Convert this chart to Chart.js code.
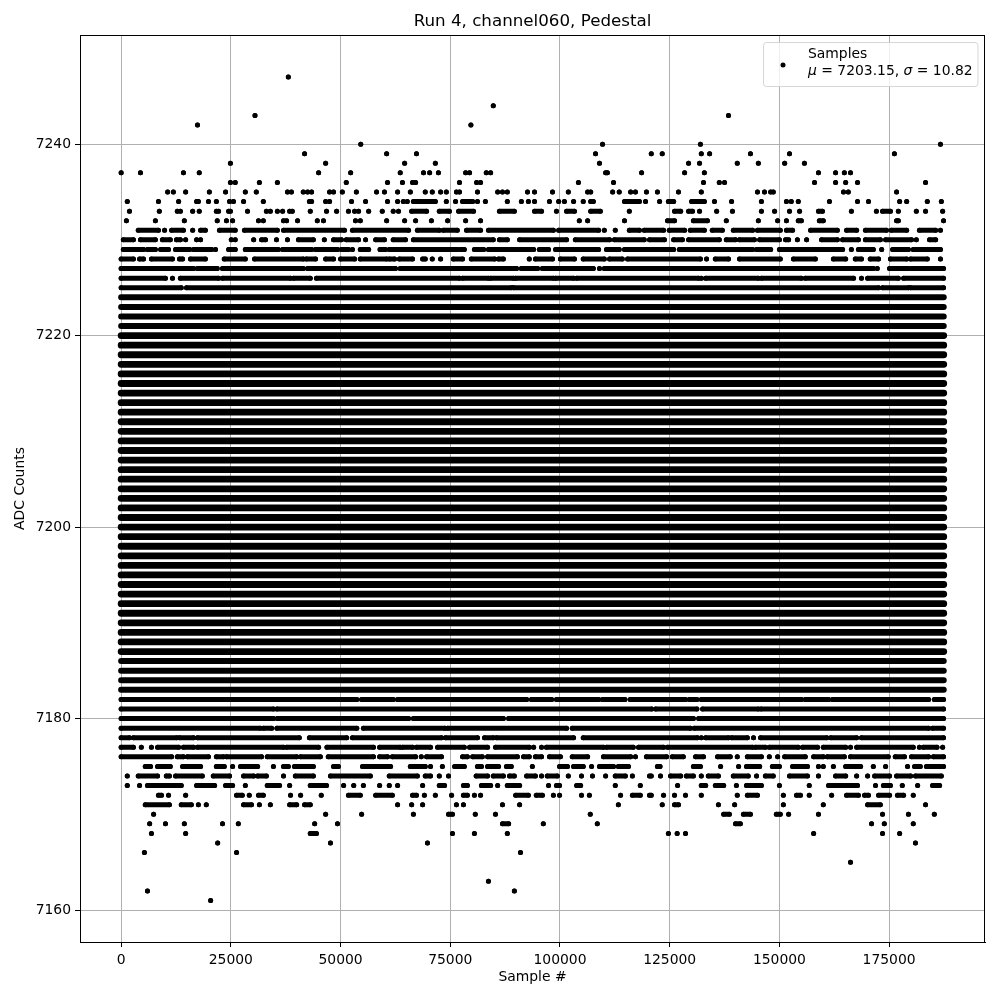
<!DOCTYPE html>
<html><head><meta charset="utf-8">
<script src="https://cdn.jsdelivr.net/npm/chart.js@4/dist/chart.umd.min.js"></script>
<style>html,body{margin:0;padding:0;background:#fff}</style>
</head><body>
<canvas id="c" width="1000" height="1000"></canvas>
<script>
// ---------------- data (x values in thousands of samples) ----------------
const chartTitle = 'Run 4, channel060, Pedestal';
const xLabel = 'Sample #';
const yLabel = 'ADC Counts';
const legendLabel = 'Samples';
const meanADC = '7203.15';
const sigmaADC = '10.82';
const xTicks = [0, 25000, 50000, 75000, 100000, 125000, 150000, 175000];
const yTicks = [7160, 7180, 7200, 7220, 7240];
const lastSampleK = 187.45;

// ADC levels filled continuously over the whole run (core = most populated)
const coreLevels = [7187,7188,7189,7190,7191,7192,7193,7194,7195,7196,7197,7198,7199,7200,
  7201,7202,7203,7204,7205,7206,7207,7208,7209,7210,7211,7212,7213,7214,7215,7216,7217,7218,7219,7220];
const shoulderLevels = [7183,7184,7185,7186,7221,7222,7223,7224];

// upper tail: single numbers = isolated samples, pairs = runs of adjacent samples
const upperLevels = [7247,7244,7243,7242,7240,7239,7238,7237,7236,7235,7234,7233,7232,7231,7230,7229,7228,7227,7226,7225];
const upperRuns = [
  [38.1],
  [84.8],
  [30.5,138.4],
  [17.4,79.7],
  [54.6,109.7,132.0,186.7],
  [41.8,60.5,67.3,108.1,120.8,123.3,132.2,134.1,143.4,152.3,176.2],
  [24.9,46.6,64.6,71.6,109.0,129.3,131.8,140.4,145.2,151.2,155.7],
  [0,4.4,14.2,17.8,45.0,52.3,63.6,68.9,70.3,72.3,78.5,79.4,83.2,84.2,[110.4,110.8],118.6,128.4,132.9,158.9,162.8,164.8,166.2],
  [24.9,26.0,31.5,35.6,51.3,60.7,64.1,66.4,67.1,77.1,81.0,81.9,104.2,112.2,132.7,136.3,137.5,158.0,162.8,165.1,167.8,183.3],
  [10.6,11.9,14.7,20.1,23.8,28.3,30.8,37.9,38.8,41.5,42.5,43.4,47.5,48.4,50.4,53.6,58.2,60.0,63.0,65.9,69.3,70.9,72.8,74.1,76.4,77.1,81.2,85.8,86.9,88.0,92.6,94.2,98.3,101.9,106.3,107.0,112.0,113.5,116.1,117.2,119.7,122.2,127.0,132.2,145.0,146.6,148.0,148.6,164.6,165.7,176.7],
  [1.4,8.5,13.1,17.2,17.6,19.9,21.7,24.7,25.6,27.9,32.4,42.9,43.4,46.6,47.5,52.5,55.7,60.7,63.0,64.3,65.2,[66.6,71.6],74.1,76.2,[77.8,80.1],81.2,83.0,88.0,91.2,92.8,94.2,97.6,99.7,101.0,103.1,105.3,107.0,107.6,[114.7,118.1],119.5,122.7,[124.7,125.9],[130.0,132.9],135.2,139.1,145.9,151.6,152.7,154.3,161.4,167.8,170.3,177.4,179.0,183.7,186.9],
  [1.9,8.7,12.8,13.5,16.3,17.8,21.7,22.2,24.5,24.9,28.8,33.1,34.0,35.6,36.8,38.4,39.0,43.1,46.8,49.1,51.8,53.2,54.1,56.4,59.5,62.0,63.2,[66.2,69.6],[72.5,74.8],[76.9,80.3],[86.2,89.6],[94.2,95.8],99.2,[101.5,103.3],[107.0,109.2],115.8,[126.1,127.5],[129.3,130.2],131.8,135.7,139.3,145.9,148.9,152.3,154.6,[158.9,159.8],166.4,172.1,[173.5,175.3],177.1,181.2,183.3,187.2],
  [1.2,7.8,14.4,21.9,24.0,25.4,31.3,32.4,37.0,37.7,40.2,44.7,46.1,53.4,54.5,60.5,64.6,67.1,70.7,74.4,78.5,81.9,104.4,106.3,114.7,[124.5,126.1],[130.4,133.6],137.9,145.2,149.6,151.6,[154.3,155.0],[159.1,160.0],[176.7,177.1],187.4],
  [[3.9,8.5],9.9,[11.5,14.2],16.3,[18.1,19.2],[22.4,26.0],[28.1,35.6],[37.0,50.9],[52.7,65.5],[67.5,72.5],[73.4,76.6],[78.7,81.9],[83.7,98.5],[99.7,108.8],110.1,112.6,[115.8,118.1],[119.2,123.6],[124.9,128.4],[129.7,132.9],[134.7,137.0],[139.5,143.9],[145.0,150.2],[151.6,153.0],[157.1,163.2],[165.3,167.6],[169.6,174.4],[175.5,179.0],[181.9,185.6],186.7],
  [[0.5,2.8],[4.4,7.8],[9.4,11.2],[12.6,13.5],14.7,17.2,18.1,25.1,26.0,30.2,[32.0,32.9],35.4,37.9,[40.4,43.8],46.3,[48.4,50.2],[51.3,54.1],55.7,[58.0,60.0],[62.0,64.8],[66.6,84.8],[86.2,88.0],[90.8,101.5],[103.5,111.3],[112.4,119.2],[120.4,123.8],[125.9,127.9],[129.3,136.3],[137.9,140.0],[140.9,144.3],[145.5,150.0],[151.4,152.1],154.1,156.2,[159.6,163.2],[164.4,168.0],[169.6,173.0],[174.2,180.1],181.2,[184.2,185.6]],
  [[0.5,2.8],[3.3,5.1],[6.0,7.8],[9.0,10.8],[12.4,15.6],[16.5,20.6],21.5,[24.5,26.0],[28.3,35.8],[36.8,43.4],[44.3,49.3],[50.2,51.8],52.7,[54.5,56.4],[59.0,60.2],[61.1,76.6],[77.3,78.2],[80.5,82.6],[83.7,94.0],[95.3,97.4],[99.0,108.8],[110.6,113.5],[114.7,125.9],[127.2,143.9],[144.8,148.0],[150.0,164.4],166.4,[168.0,171.4],173.3,[175.8,179.4],[180.5,186.7]],
  [[0,2.8],[4.2,5.1],[6.9,11.7],[13.3,14.0],[15.8,19.2],[23.5,28.3],[30.4,41.5],[42.2,44.3],[46.6,48.4],[50.0,53.2],[54.5,60.5],[61.1,62.3],[63.4,66.4],[68.7,69.3],70.9,72.8,[75.7,77.8],[79.8,85.1],[86.0,87.1],93.0,[94.4,98.3],[100.1,103.3],[105.3,110.1],[111.3,114.2],[115.4,132.0],133.4,[135.4,138.4],[140.9,150.2],[153.2,158.2],[162.3,165.1],[167.3,168.7],[170.7,172.6],[175.3,179.0],[179.9,183.7],186.7],
  [[0,16.5],[17.4,21.9],[23.1,41.5],[42.5,62.5],[63.6,90.1],[91.2,94.9],[96.0,107.6],109.0,[110.1,171.4],172.3,[175.1,179.4],[180.1,187.4]],
  [[0,10.1],11.7,[13.5,22.2],[23.1,38.6],[39.3,43.1],[44.5,77.1],[77.8,83.7],[84.2,89.4],[89.9,98.5],[99.0,103.1],[103.8,131.6],132.2,[133.2,145.2],[145.9,155.0],[155.9,166.9],168.7,[170.1,177.1],[178.3,187.4]],
  [[0,13.7],[14.9,88.9],[89.4,172.6],[173.5,179.4],[179.9,187.4]]
];

// lower tail
const lowerLevels = [7182,7181,7180,7179,7178,7177,7176,7175,7174,7173,7172,7171,7170,7169,7168,7167,7166,7165,7163,7162,7161];
const lowerRuns = [
  [[0,53.7],[54.8,62.0],[63.0,71.2],[71.6,92.4],[93.5,98.1],[99.2,108.8],[109.7,114.8],[116.0,128.6],[129.5,131.2],[132.2,155.0],[155.9,161.2],[162.1,184.0],[185.3,187.4]],
  [[0,34.7],[35.5,120.9],[121.8,131.2],[132.5,145.2],[145.8,187.4]],
  [[0,34.7],[35.6,65.5],[66.6,87.1],[88.3,130.4],[131.6,177.5],[178.0,187.4]],
  [[0,31.7],[32.4,34.3],[35.5,53.7],[55.2,73.8],[74.4,101.5],[102.8,129.7],[130.6,184.0],[184.9,187.4]],
  [[0,1.9],[2.8,12.7],[13.3,16.5],[17.4,40.6],[42.9,51.4],[52.7,73.0],[73.9,81.2],[82.8,84.8],[85.5,103.1],[105.3,131.3],132.2,[133.2,138.4],[139.1,142.7],144.1,[145.7,160.8],[161.7,167.6],[168.7,187.4]],
  [[0,2.8],4.6,6.9,[8.3,13.1],[14.2,16.5],[17.4,37.0],[37.7,45.0],[46.9,57.5],[58.9,63.6],[64.1,66.4],[67.3,70.5],[72.1,78.2],[79.4,83.5],[85.3,93.0],94.0,95.8,[96.9,109.9],[110.6,116.7],[117.9,123.6],[124.5,143.9],[144.5,146.8],[147.7,154.3],[155.3,158.7],[160.0,165.1],166.2,[167.6,180.5],181.9,[182.8,185.9],187.2],
  [[0,11.5],[12.8,14.2],[15.1,19.9],[21.7,23.3],[24.0,32.0],[33.3,40.0],[40.9,45.4],[47.2,57.5],[58.9,60.7],[61.8,67.1],68.4,[69.6,73.0],[77.8,78.9],[80.1,82.3],[83.5,90.3],[91.7,93.0],[94.4,95.8],[97.6,100.1],[102.8,106.3],[109.9,116.1],117.2,[119.7,124.3],[125.6,128.1],[130.9,132.7],[135.9,138.8],140.4,[142.7,145.9],147.7,149.6,[151.2,155.9],[157.8,160.0],[160.9,164.8],[166.2,174.8],[176.4,178.5],[180.1,184.0],[185.1,187.4]],
  [[5.5,6.7],[8.3,11.2],[14.0,18.1],[21.7,23.5],25.4,[27.2,31.1],34.7,[37.0,38.1],[39.5,43.8],[48.4,49.5],[55.0,61.4],[65.9,69.3],70.5,73.2,[76.0,78.2],[81.2,82.1],[83.5,86.0],[87.8,88.9],93.7,[99.9,101.7],[103.1,105.3],107.2,[109.0,112.2],[113.3,115.6],[122.2,122.8],[130.4,132.0],136.6,140.7,[142.5,145.5],[148.4,150.0],[153.0,156.4],158.9,160.0,162.3,[165.1,168.5],171.4,174.2,179.2,[180.8,182.1],[183.5,186.7],187.4],
  [1.4,[3.9,8.3],[10.3,11.0],[12.4,18.5],[21.0,24.7],[27.9,30.2],[31.1,33.1],37.0,[39.7,43.8],[47.7,56.8],[61.1,67.5],[69.3,70.5],72.5,74.6,[80.9,83.5],[84.8,87.1],[88.5,89.6],[92.4,94.4],95.8,[97.1,99.4],101.9,104.9,107.4,110.4,[112.6,114.9],116.5,[120.4,120.8],122.9,[125.2,127.5],[128.8,130.4],132.2,[133.8,136.1],[139.5,142.9],144.8,[146.8,148.6],[152.3,156.4],158.9,[162.8,165.1],167.6,170.1,[171.7,175.1],[176.7,179.9],[181.0,186.9]],
  [1.4,4.2,[6.0,13.7],[17.2,21.3],[23.8,25.4],28.3,[33.3,36.1],38.4,[43.1,46.8],50.7,53.0,55.2,58.9,61.1,63.0,68.7,[72.5,73.7],[78.0,78.9],[82.1,84.2],85.8,[88.0,90.8],97.4,[99.2,99.9],[103.8,104.7],112.6,118.3,126.8,[132.2,133.2],[135.4,137.3],140.2,[142.5,145.9],150.0,156.8,[161.2,167.8],171.9,[173.7,175.3],178.0,181.5,[184.9,186.5]],
  [[8.5,9.2],10.8,14.7,[26.3,27.6],29.2,[31.3,32.4],38.6,40.9,45.6,[51.8,54.5],[58.0,61.8],[66.4,67.3],69.1,71.6,75.3,[78.0,78.9],80.5,81.9,[89.9,92.8],[94.6,96.0],98.5,99.9,104.9,106.7,113.8,[116.5,118.3],[120.4,120.8],123.6,126.1,128.6,132.2,140.4,[142.7,145.0],150.9,[153.9,154.8],156.8,161.9,[165.3,168.0],[169.4,170.3],[172.6,175.1],[176.9,178.3],180.5],
  [[5.5,11.0],[13.7,16.0],17.6,19.4,[27.9,29.7],31.5,34.0,[38.4,40.0],[41.8,43.1],63.0,66.2,68.7,76.4,78.0,86.9,90.8,113.3,123.3,[126.1,127.0],136.1,139.8,150.9,160.0,[170.1,173.0],183.3],
  [7.4,46.6,54.8,66.6,[74.6,75.5],80.7,85.3,106.9,[137.3,138.6],[141.8,143.4],[149.3,150.2],152.1,158.9,173.5,179.4,185.3],
  [6.5,10.1,14.4,23.1,26.7,44.1,49.3,[86.9,88.3],96.2,108.5,[140.0,141.1],171.0,173.9,180.5],
  [6.9,14.7,[43.1,44.5],75.5,80.5,88.0,124.7,126.7,128.6,157.8,173.5,177.4],
  [22.0,47.7,69.8,181.0],
  [5.3,26.3,91.0],
  [166.2],
  [83.7],
  [6.0,89.6],
  [20.4]
];

// ---------------- build library data ----------------
const K = 1000;
function runsToPoints(levels, runs) {
  const pts = [];
  levels.forEach((lv, i) => {
    runs[i].forEach(r => {
      const a = Array.isArray(r) ? r[0] : r;
      const b = Array.isArray(r) ? r[1] : r;
      pts.push({x: a * K, y: lv});
      if (b !== a) pts.push({x: b * K, y: lv});
      pts.push({x: b * K, y: null});
    });
  });
  return pts;
}
function fullRows(levels) {
  const pts = [];
  levels.forEach(lv => {
    pts.push({x: 0, y: lv});
    pts.push({x: lastSampleK * K, y: lv});
    pts.push({x: lastSampleK * K, y: null});
  });
  return pts;
}
const corePts = fullRows(coreLevels);
const shoulderPts = fullRows(shoulderLevels);
const tailPts = runsToPoints(upperLevels, upperRuns).concat(runsToPoints(lowerLevels, lowerRuns));

const FONT = 'DejaVu Sans';
const AX_FS = 13.9;

const decor = {
  id: 'decor',
  afterDraw(chart) {
    const ctx = chart.ctx, a = chart.chartArea;
    ctx.save();
    ctx.strokeStyle = '#000'; ctx.lineWidth = 1;
    ctx.strokeRect(Math.round(a.left) + 0.5, Math.round(a.top) + 0.5, Math.round(a.right - a.left) - 1, Math.round(a.bottom - a.top));
    ctx.fillStyle = '#000';
    ctx.font = '16.7px "' + FONT + '"';
    ctx.textAlign = 'center'; ctx.textBaseline = 'middle';
    ctx.fillText(chartTitle, (a.left + a.right) / 2, 22);
    const bx = 763.5, by = 42.5, bw = 214.5, bh = 44, r = 3;
    ctx.beginPath();
    ctx.moveTo(bx + r, by); ctx.lineTo(bx + bw - r, by); ctx.quadraticCurveTo(bx + bw, by, bx + bw, by + r);
    ctx.lineTo(bx + bw, by + bh - r); ctx.quadraticCurveTo(bx + bw, by + bh, bx + bw - r, by + bh);
    ctx.lineTo(bx + r, by + bh); ctx.quadraticCurveTo(bx, by + bh, bx, by + bh - r);
    ctx.lineTo(bx, by + r); ctx.quadraticCurveTo(bx, by, bx + r, by); ctx.closePath();
    ctx.fillStyle = 'rgba(255,255,255,0.8)'; ctx.fill();
    ctx.strokeStyle = 'rgba(204,204,204,0.8)'; ctx.stroke();
    ctx.fillStyle = '#000';
    ctx.beginPath(); ctx.arc(783, 65, 2.5, 0, Math.PI * 2); ctx.fill();
    ctx.textAlign = 'left';
    ctx.font = AX_FS + 'px "' + FONT + '"';
    ctx.fillText(legendLabel, 808, 54);
    const parts = [['μ', true], [' = ' + meanADC + ', ', false], ['σ', true], [' = ' + sigmaADC, false]];
    let tx = 808;
    parts.forEach(([t, it]) => {
      ctx.font = (it ? 'italic ' : '') + AX_FS + 'px "' + FONT + '"';
      ctx.fillText(t, tx, 71);
      tx += ctx.measureText(t).width;
    });
    ctx.restore();
  }
};

const lineStyle = {showLine: true, borderColor: '#000', backgroundColor: '#000', borderCapStyle: 'round',
  borderJoinStyle: 'round', fill: false, spanGaps: false};

new Chart(document.getElementById('c'), {
  type: 'scatter',
  data: {
    datasets: [
      Object.assign({label: legendLabel, data: corePts, borderWidth: 6.8, pointRadius: 0}, lineStyle),
      Object.assign({label: legendLabel, data: shoulderPts, borderWidth: 6.0, pointRadius: 0}, lineStyle),
      Object.assign({label: legendLabel, data: tailPts, borderWidth: 5.0, pointRadius: 2.5, pointBorderWidth: 0,
        pointBackgroundColor: '#000'}, lineStyle)
    ]
  },
  options: {
    responsive: false, animation: false, devicePixelRatio: 1,
    layout: {padding: {left: 0, right: 15, top: 35, bottom: 0}},
    plugins: {legend: {display: false}, tooltip: {enabled: false}, title: {display: false}},
    scales: {
      x: {
        type: 'linear', min: -9374, max: 196848,
        afterBuildTicks: s => { s.ticks = xTicks.map(v => ({value: v})); },
        afterFit: s => { s.height = 58; },
        ticks: {color: '#000', font: {family: FONT, size: AX_FS}, padding: 5, maxRotation: 0, autoSkip: false,
          callback: v => String(v)},
        grid: {color: '#b0b0b0', lineWidth: 1, tickColor: '#000', tickLength: 5, drawTicks: true},
        border: {color: '#000', width: 1},
        title: {display: true, text: xLabel, color: '#000', font: {family: FONT, size: AX_FS}, padding: {top: 0, bottom: 14.7}}
      },
      y: {
        type: 'linear', min: 7156.66, max: 7251.4,
        afterBuildTicks: s => { s.ticks = yTicks.map(v => ({value: v})); },
        afterFit: s => { s.width = 80; },
        ticks: {color: '#000', font: {family: FONT, size: AX_FS}, padding: 4, autoSkip: false,
          callback: v => String(v)},
        grid: {color: '#b0b0b0', lineWidth: 1, tickColor: '#000', tickLength: 5, drawTicks: true},
        border: {color: '#000', width: 1},
        title: {display: true, text: yLabel, color: '#000', font: {family: FONT, size: AX_FS}, padding: {top: 12, bottom: 0}}
      }
    }
  },
  plugins: [decor]
});
</script>
</body></html>
